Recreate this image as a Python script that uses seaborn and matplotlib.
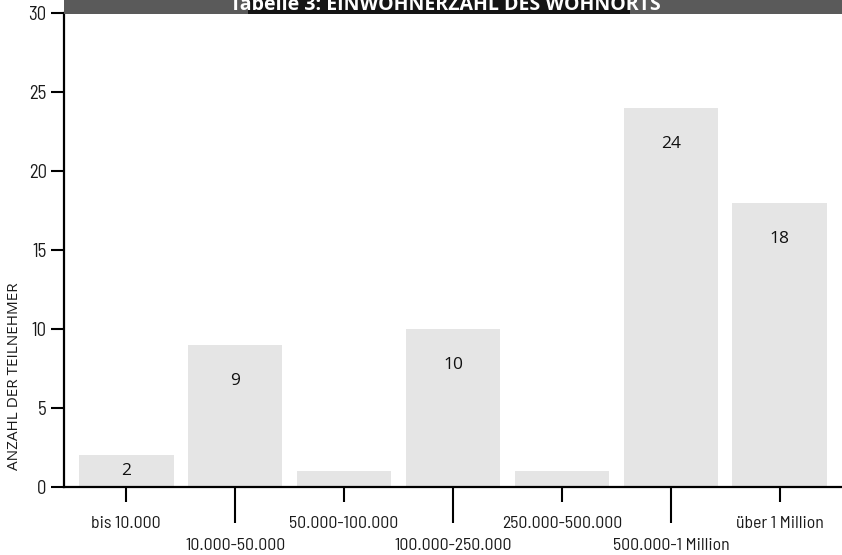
import matplotlib
matplotlib.use("Agg")
import matplotlib.pyplot as plt
import seaborn as sns
import pandas as pd
from matplotlib.patches import Rectangle

# Survey data: size of participants' home town
categories = ["bis 10.000", "10.000-50.000", "50.000-100.000", "100.000-250.000",
              "250.000-500.000", "500.000-1 Million", "über 1 Million"]
counts = [2, 9, 1, 10, 1, 24, 18]
labelled = [True, True, False, True, False, True, True]
y_ticks = [0, 5, 10, 15, 20, 25, 30]

title = "Tabelle 3: EINWOHNERZAHL DES WOHNORTS"
y_label = "ANZAHL DER TEILNEHMER"

df = pd.DataFrame({"Ort": categories, "Anzahl": counts})

sns.set_theme(style="white")
plt.rcParams["font.family"] = ["Open Sans", "DejaVu Sans"]

# Narrow face for the axis tick labels
tick_font = dict(family=["Barlow Semi Condensed", "Asap Condensed", "DejaVu Sans"],
                 weight="normal")

fig = plt.figure(figsize=(8.42, 5.55), dpi=100)
ax = fig.add_axes([64 / 842, 68 / 555, 1 - 64 / 842, 474 / 555])

sns.barplot(data=df, x="Ort", y="Anzahl", color="#e5e5e5", saturation=1,
            width=0.87, ax=ax, linewidth=0)

ax.set_xlim(-0.57, 6.57)
ax.set_ylim(0, 30)
ax.set_yticks(y_ticks)
ax.set_ylabel("")
ax.set_xlabel("")

for side in ("top", "right"):
    ax.spines[side].set_visible(False)
for side in ("left", "bottom"):
    ax.spines[side].set_color("black")
    ax.spines[side].set_linewidth(1.6)

# Alternating tick lengths: even positions short, odd positions long (second row)
pos = list(range(len(categories)))
ax.set_xticks(pos[0::2], labels=categories[0::2])
ax.set_xticks(pos[1::2], labels=categories[1::2], minor=True)
ax.tick_params(axis="x", which="major", bottom=True, length=11, width=1.5,
               color="black", pad=10)
ax.tick_params(axis="x", which="minor", bottom=True, length=26, width=1.5,
               color="black", pad=11)
ax.tick_params(axis="y", left=True, length=9.5, width=1.5, color="black", pad=3)
for lab in ax.get_xticklabels(which="both"):
    lab.set(**tick_font)
    lab.set_fontsize(12.8)
    lab.set_color("#1a1a1a")
for lab in ax.get_yticklabels():
    lab.set(**tick_font)
    lab.set_fontsize(13.5)
    lab.set_color("#1a1a1a")

# Value labels inside the bars
for i, (v, show) in enumerate(zip(counts, labelled)):
    if show:
        ax.text(i, max(v - 2.3, v / 2), str(v), ha="center", va="center",
                fontsize=12.5, color="#111111")

fig.text(15 / 842, (555 - 376) / 555, y_label, rotation=90, ha="center",
         va="center", fontsize=11, color="#1a1a1a")

# Header band with the table title
fig.patches.append(Rectangle((64 / 842, 1 - 14 / 555), 1 - 64 / 842, 14 / 555,
                             transform=fig.transFigure, facecolor="#5a5a5a",
                             edgecolor="none", zorder=0))
fig.patches.append(Rectangle((248 / 842, 1 - 14 / 555), (630 - 248) / 842, 14 / 555,
                             transform=fig.transFigure, facecolor="#151515",
                             edgecolor="none", zorder=1))
fig.text(445 / 842, 1 - 9.5 / 555, title, ha="center", va="baseline",
         fontsize=14, fontweight="bold", color="white", zorder=3)

fig.savefig("out.png", dpi=100)
